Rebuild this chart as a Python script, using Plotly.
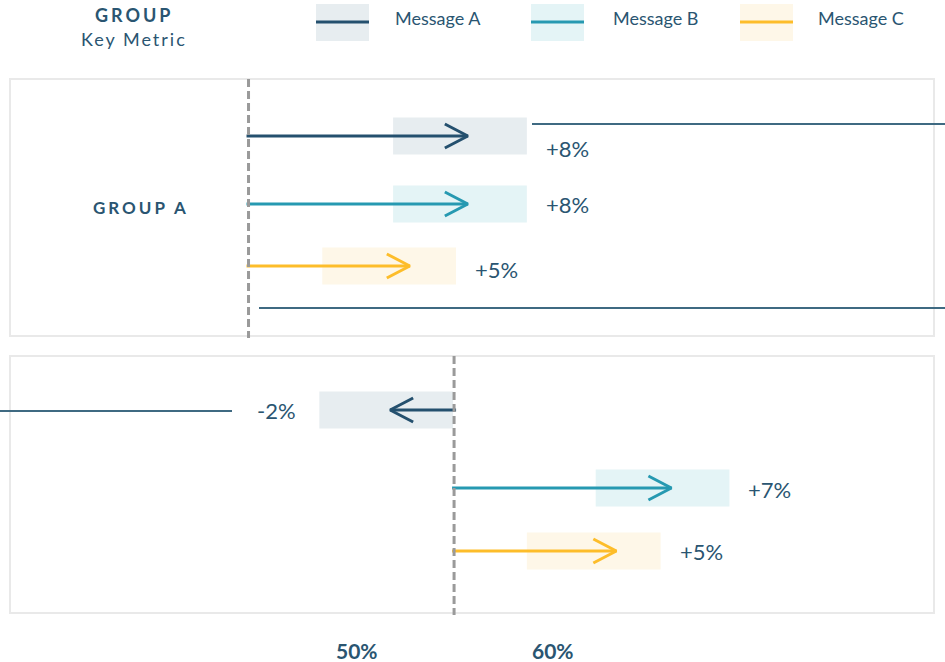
import plotly.graph_objects as go

# ---------------- data ----------------
groups = ["GROUP A", ""]
messages = ["Message A", "Message B", "Message C"]
baselines = [44.5, 54.95]
values = [[55.65, 55.65, 52.7], [51.7, 66.0, 63.2]]
range_low = [[51.85, 51.85, 48.25], [48.1, 62.15, 58.65]]
range_high = [[58.65, 58.65, 55.05], [54.9, 68.95, 65.45]]
change_labels = [["+8%", "+8%", "+5%"], ["-2%", "+7%", "+5%"]]
tick_values = [50, 60]
tick_labels = ["50%", "60%"]
header_title = "GROUP"
header_sub = "Key Metric"

# ---------------- styles / layout ----------------
W, H = 945, 662
FONT = "Lato"
TEXT = "#2a5571"
line_colors = ["#24506e", "#2699b1", "#fdbd2a"]
fill_colors = ["#e7edf0", "#e4f4f6", "#fef7e8"]
PX = 19.67                      # pixels per axis unit
X0 = 50 - 356.7 / PX
X1 = X0 + W / PX
panel_tops = [79, 356]
panel_bottoms = [336, 613]
row_y = [[136, 204, 266], [410, 488, 551]]
label_dy = [[12, 0, 3], [0, 1, 0]]
group_label_y = [207, 485]


def px(v):
    return v / PX


def paper_x(p):
    return p / W


def paper_y(p):
    return 1 - p / H


fig = go.Figure()
shapes = []
annotations = []

# panels
for g in range(len(groups)):
    shapes.append(dict(type="rect", xref="paper", yref="paper",
                       x0=paper_x(10), x1=paper_x(934),
                       y0=paper_y(panel_tops[g]), y1=paper_y(panel_bottoms[g]),
                       line=dict(color="#e9e9e9", width=2), fillcolor="rgba(0,0,0,0)",
                       layer="below"))

# interval boxes
for g in range(len(groups)):
    for m in range(len(messages)):
        r = row_y[g][m]
        shapes.append(dict(type="rect", xref="x", yref="y",
                           x0=range_low[g][m], x1=range_high[g][m],
                           y0=r - 18.5, y1=r + 18.5,
                           line=dict(width=0), fillcolor=fill_colors[m], layer="below"))

# baselines (dashed)
for g in range(len(groups)):
    shapes.append(dict(type="line", xref="x", yref="y",
                       x0=baselines[g], x1=baselines[g],
                       y0=panel_tops[g], y1=panel_bottoms[g] + 2,
                       line=dict(color="#9a9a9a", width=3, dash="8px,4px"),
                       layer="above"))

# connector-like thin lines
thin = "#3f6a82"
shapes.append(dict(type="line", xref="paper", yref="paper", x0=paper_x(532), x1=1,
                   y0=paper_y(124), y1=paper_y(124), line=dict(color=thin, width=2)))
shapes.append(dict(type="line", xref="paper", yref="paper", x0=paper_x(259), x1=1,
                   y0=paper_y(308), y1=paper_y(308), line=dict(color=thin, width=2)))
shapes.append(dict(type="line", xref="paper", yref="paper", x0=0, x1=paper_x(232),
                   y0=paper_y(411), y1=paper_y(411), line=dict(color=thin, width=2)))

# arrows
for g in range(len(groups)):
    for m in range(len(messages)):
        r = row_y[g][m]
        b = baselines[g]
        v = values[g][m]
        s = 1 if v >= b else -1
        fig.add_trace(go.Scatter(x=[b - s * px(2), v], y=[r, r], mode="lines",
                                 line=dict(color=line_colors[m], width=3),
                                 showlegend=False, hoverinfo="skip"))
        fig.add_trace(go.Scatter(x=[v - s * px(23), v, v - s * px(23)],
                                 y=[r - 12, r, r + 12], mode="lines",
                                 line=dict(color=line_colors[m], width=3),
                                 showlegend=False, hoverinfo="skip"))
        if s > 0:
            ax, anchor = range_high[g][m] + px(17), "left"
        else:
            ax, anchor = range_low[g][m] - px(21), "right"
        annotations.append(dict(x=ax, y=r + label_dy[g][m], xref="x", yref="y",
                                text=change_labels[g][m], showarrow=False,
                                xanchor=anchor, yanchor="middle",
                                font=dict(family=FONT, size=22, color=TEXT)))

# group labels
for g in range(len(groups)):
    if groups[g]:
        annotations.append(dict(x=paper_x(141), y=paper_y(group_label_y[g]),
                                xref="paper", yref="paper",
                                text="<b><span style='letter-spacing:3px'>%s</span></b>" % groups[g],
                                showarrow=False, xanchor="center", yanchor="middle",
                                font=dict(family=FONT, size=17, color=TEXT)))

# header
annotations.append(dict(x=paper_x(134), y=paper_y(15), xref="paper", yref="paper",
                        text="<b><span style='letter-spacing:3px'>%s</span></b>" % header_title,
                        showarrow=False, xanchor="center", yanchor="middle",
                        font=dict(family=FONT, size=18, color=TEXT)))
annotations.append(dict(x=paper_x(134), y=paper_y(39), xref="paper", yref="paper",
                        text="<span style='letter-spacing:2px'>%s</span>" % header_sub,
                        showarrow=False, xanchor="center", yanchor="middle",
                        font=dict(family=FONT, size=18, color=TEXT)))

# legend
sw_left = [316, 531, 740]
txt_left = [393, 611, 816]
for m in range(len(messages)):
    shapes.append(dict(type="rect", xref="paper", yref="paper",
                       x0=paper_x(sw_left[m]), x1=paper_x(sw_left[m] + 53),
                       y0=paper_y(4), y1=paper_y(41),
                       line=dict(width=0), fillcolor=fill_colors[m]))
    shapes.append(dict(type="line", xref="paper", yref="paper",
                       x0=paper_x(sw_left[m]), x1=paper_x(sw_left[m] + 53),
                       y0=paper_y(22), y1=paper_y(22),
                       line=dict(color=line_colors[m], width=3)))
    annotations.append(dict(x=paper_x(txt_left[m]), y=paper_y(18), xref="paper", yref="paper",
                            text=messages[m], showarrow=False, xanchor="left", yanchor="middle",
                            font=dict(family=FONT, size=18, color=TEXT)))

# tick labels
for tv, tl in zip(tick_values, tick_labels):
    annotations.append(dict(x=tv, y=paper_y(650), xref="x", yref="paper",
                            text="<b>%s</b>" % tl, showarrow=False,
                            xanchor="center", yanchor="middle",
                            font=dict(family=FONT, size=21, color=TEXT)))

fig.update_layout(
    width=W, height=H, margin=dict(l=0, r=0, t=0, b=0),
    paper_bgcolor="white", plot_bgcolor="white",
    xaxis=dict(range=[X0, X1], visible=False, fixedrange=True),
    yaxis=dict(range=[H, 0], visible=False, fixedrange=True),
    shapes=shapes, annotations=annotations, showlegend=False,
)

fig.write_html("out.html")
